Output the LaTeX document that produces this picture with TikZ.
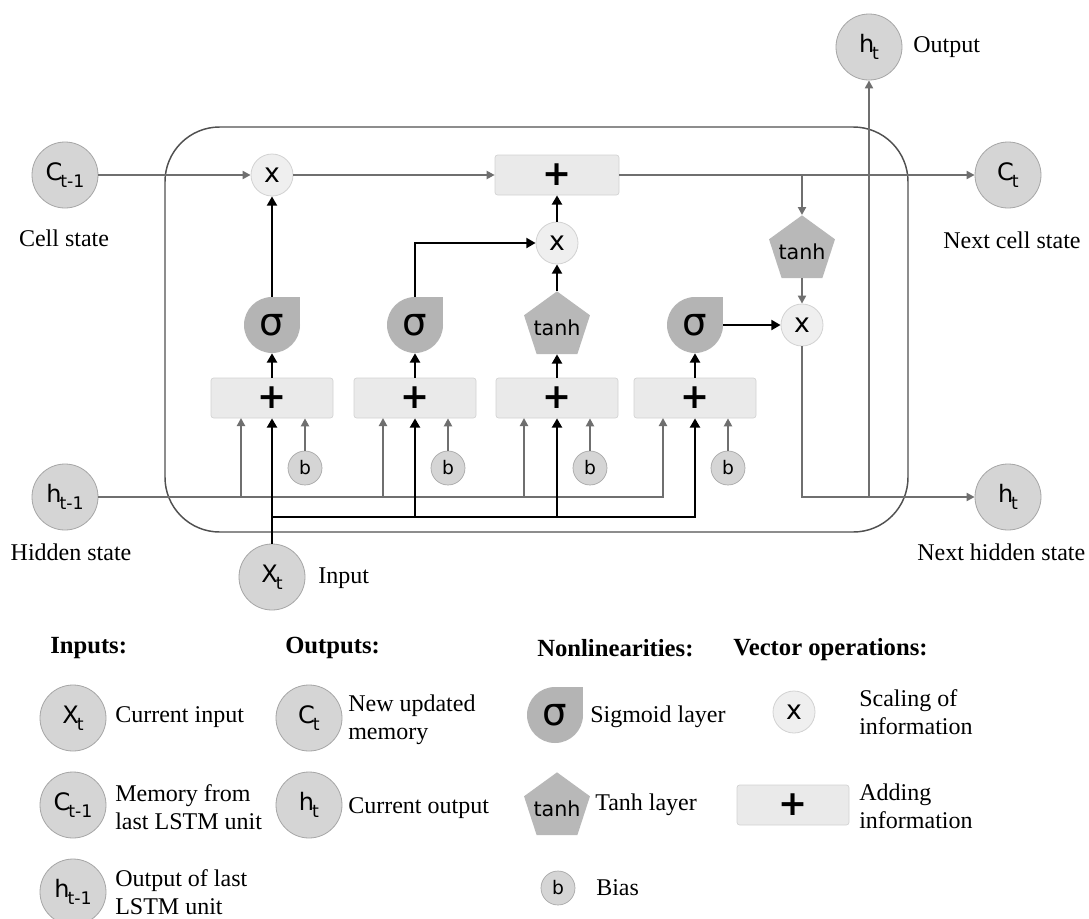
\documentclass[tikz,border=0pt]{standalone}
\usepackage{fontspec}
\setmainfont{Liberation Serif}
\newfontfamily\sansf{DejaVu Sans}
\usetikzlibrary{arrows.meta,shapes.geometric}

\definecolor{cfill}{HTML}{D5D5D5}
\definecolor{cline}{HTML}{A6A6A6}
\definecolor{sfill}{HTML}{B4B4B4}
\definecolor{tfill}{HTML}{B8B8B8}
\definecolor{mfill}{HTML}{EFEFEF}
\definecolor{mline}{HTML}{D2D2D2}
\definecolor{bfill}{HTML}{EAEAEA}
\definecolor{gline}{HTML}{6F6F6F}
\definecolor{frame}{HTML}{505050}

\newcommand\vlab[2]{{\sansf\fontsize{18}{18}\selectfont #1\kern-1.5pt\raisebox{-5pt}{\fontsize{13}{13}\selectfont #2}}}
\newcommand\sigmanode[2]{\fill[sfill] #2 circle[radius=28]; \fill[sfill] #2 rectangle ++(28,-28); \node[sigtxt] (#1) at #2 {σ};}

\tikzset{
 bigc/.style={circle, fill=cfill, draw=cline, line width=0.6pt, minimum size=49.5pt, inner sep=0pt},
 mult/.style={circle, fill=mfill, draw=mline, line width=0.6pt, minimum size=31.5pt, inner sep=0pt, font=\sansf\fontsize{20}{20}\selectfont},
 bias/.style={circle, fill=cfill, draw=cline, line width=0.5pt, minimum size=25.5pt, inner sep=0pt, font=\sansf\fontsize{14}{14}\selectfont},
 addbox/.style={rectangle, rounded corners=2pt, fill=bfill, draw=mline, line width=0.5pt, minimum width=91.5pt, minimum height=30pt, inner sep=0pt, font=\sansf\bfseries\fontsize{26}{26}\selectfont},
 tanhp/.style={regular polygon, regular polygon sides=5, fill=tfill, minimum size=52pt, inner sep=0pt},
 tanht/.style={inner sep=0pt, font=\sansf\fontsize{15.5}{15.5}\selectfont},
 sigtxt/.style={circle, minimum size=42pt, inner sep=0pt, font=\sansf\fontsize{29}{29}\selectfont},
 lbl/.style={font=\fontsize{18}{21}\selectfont, inner sep=0pt, align=left},
 head/.style={font=\bfseries\fontsize{18.5}{18.5}\selectfont, inner sep=0pt, anchor=west},
 barr/.style={line width=2.2pt, -{Triangle[length=7pt,width=7.5pt]}},
 garr/.style={gline, line width=1.5pt, -{Triangle[length=6pt,width=6pt]}},
}

\begin{document}
\begin{tikzpicture}[x=0.75pt,y=-0.75pt]
\useasboundingbox (0,0) rectangle (1089,918);
\fill[white] (0,0) rectangle (1089,918);

% frame of the cell
\draw[frame, line width=1.1pt, rounded corners=41pt] (165,127) rectangle (908,532);

% external states
\node[bigc] (ct1) at (65,175) {\vlab{C}{t-1}};
\node[lbl] (ct1l) at (64,238) {Cell state};
\node[bigc] (ht1) at (65,497) {\vlab{h}{t-1}};
\node[lbl] (ht1l) at (71,552) {Hidden state};
\node[bigc] (xt) at (272,577) {\vlab{X}{t}};
\node[lbl, anchor=west] (xtl) at (318,578) {Input};
\node[bigc] (ct) at (1008,175) {\vlab{C}{t}};
\node[lbl, anchor=west] (ctl) at (943,240) {Next cell state};
\node[bigc] (ht) at (1008,497) {\vlab{h}{t}};
\node[lbl, anchor=west] (htl) at (917,552) {Next hidden state};
\node[bigc] (hto) at (869,47) {\vlab{h}{t}};
\node[lbl, anchor=west] (htol) at (913,47) {Output};

% operations on the cell line
\node[mult] (fx) at (272,175) {x};
\node[addbox, minimum width=93pt] (tadd) at (557,175) {+};
\node[mult] (ix) at (557,243) {x};
\node[tanhp] (tho) at (802,250) {};
\node[tanht] (thot) at (802,252) {tanh};
\node[mult] (ox) at (802,325) {x};

% gates
\node[addbox] (a1) at (272,398) {+};
\node[addbox] (a2) at (415,398) {+};
\node[addbox] (a3) at (557,398) {+};
\node[addbox] (a4) at (695,398) {+};
\sigmanode{s1}{(272,325)}
\sigmanode{s2}{(415,325)}
\node[tanhp] (tg) at (557,326) {};
\node[tanht] (tgt) at (557,328) {tanh};
\sigmanode{s4}{(695,325)}
\node[bias] (b1) at (305,468) {b};
\node[bias] (b2) at (448,468) {b};
\node[bias] (b3) at (590,468) {b};
\node[bias] (b4) at (728,468) {b};

\coordinate (g1) at (241,418);
\coordinate (g2) at (383,418);
\coordinate (g3) at (524,418);
\coordinate (g4) at (663,418);
\coordinate (br) at (802,175);
\coordinate (jo) at (869,497);
\coordinate (xj) at (272,517);

% gray connectors
\draw[garr] (ct1) -- (fx);
\draw[garr] (fx) -- (tadd);
\draw[garr] (tadd) -- (ct);
\draw[garr] (br) -- (tho);
\draw[garr] (tho) -- (ox);
\draw[garr] (ox) |- (ht);
\draw[garr] (jo) -- (hto);
\draw[garr] (ht1) -| (g4);
\foreach \i in {1,2,3} \draw[garr] (g\i |- ht1) -- (g\i);
\foreach \i/\a in {1/a1,2/a2,3/a3,4/a4} \draw[garr] (b\i) -- (b\i |- \a.south);

% black connectors
\draw[barr] (xt) -- (a1);
\draw[barr] (xj) -| (a4);
\draw[barr] (xj -| a2) -- (a2);
\draw[barr] (xj -| a3) -- (a3);
\draw[barr] (a1) -- (s1);
\draw[barr] (a2) -- (s2);
\draw[barr] (a3) -- (tg);
\draw[barr] (a4) -- (s4);
\draw[barr] (s1) -- (fx);
\draw[barr] (s2) |- (ix);
\draw[barr] (tg) -- (ix);
\draw[barr] (ix) -- (tadd);
\draw[barr] (s4) -- (ox);

% legend
\node[head] (hin) at (50,648) {Inputs:};
\node[head] (hout) at (285,648) {Outputs:};
\node[head] (hnl) at (537,648) {Nonlinearities:};
\node[head] (hvo) at (733,650) {Vector operations:};
\node[bigc] (lx) at (73,718) {\vlab{X}{t}};
\node[lbl,anchor=west] (lxl) at (115,717) {Current input};
\node[bigc] (lc) at (73,805) {\vlab{C}{t-1}};
\node[lbl,anchor=west] (lcl) at (115,807) {Memory from\\last LSTM unit};
\node[bigc] (lh) at (73,892) {\vlab{h}{t-1}};
\node[lbl,anchor=west] (lhl) at (115,892) {Output of last\\LSTM unit};
\node[bigc] (lct) at (309,718) {\vlab{C}{t}};
\node[lbl,anchor=west] (lctl) at (348,720) {New updated\\memory};
\node[bigc] (lht) at (309,805) {\vlab{h}{t}};
\node[lbl,anchor=west] (lhtl) at (348,808) {Current output};
\sigmanode{ls}{(555,715)}
\node[lbl,anchor=west] (lsl) at (590,717) {Sigmoid layer};
\node[tanhp] (lt) at (557,807) {};
\node[tanht] (ltt) at (557,809) {tanh};
\node[lbl,anchor=west] (ltl) at (595,805) {Tanh layer};
\node[bias] (lb) at (558,888) {b};
\node[lbl,anchor=west] (lbl2) at (596,888) {Bias};
\node[mult] (lm) at (794,712) {x};
\node[lbl,anchor=west] (lml) at (859,712) {Scaling of\\information};
\node[addbox, minimum width=84pt] (la) at (793,805) {+};
\node[lbl,anchor=west] (lal) at (859,806) {Adding\\information};
\end{tikzpicture}
\end{document}
